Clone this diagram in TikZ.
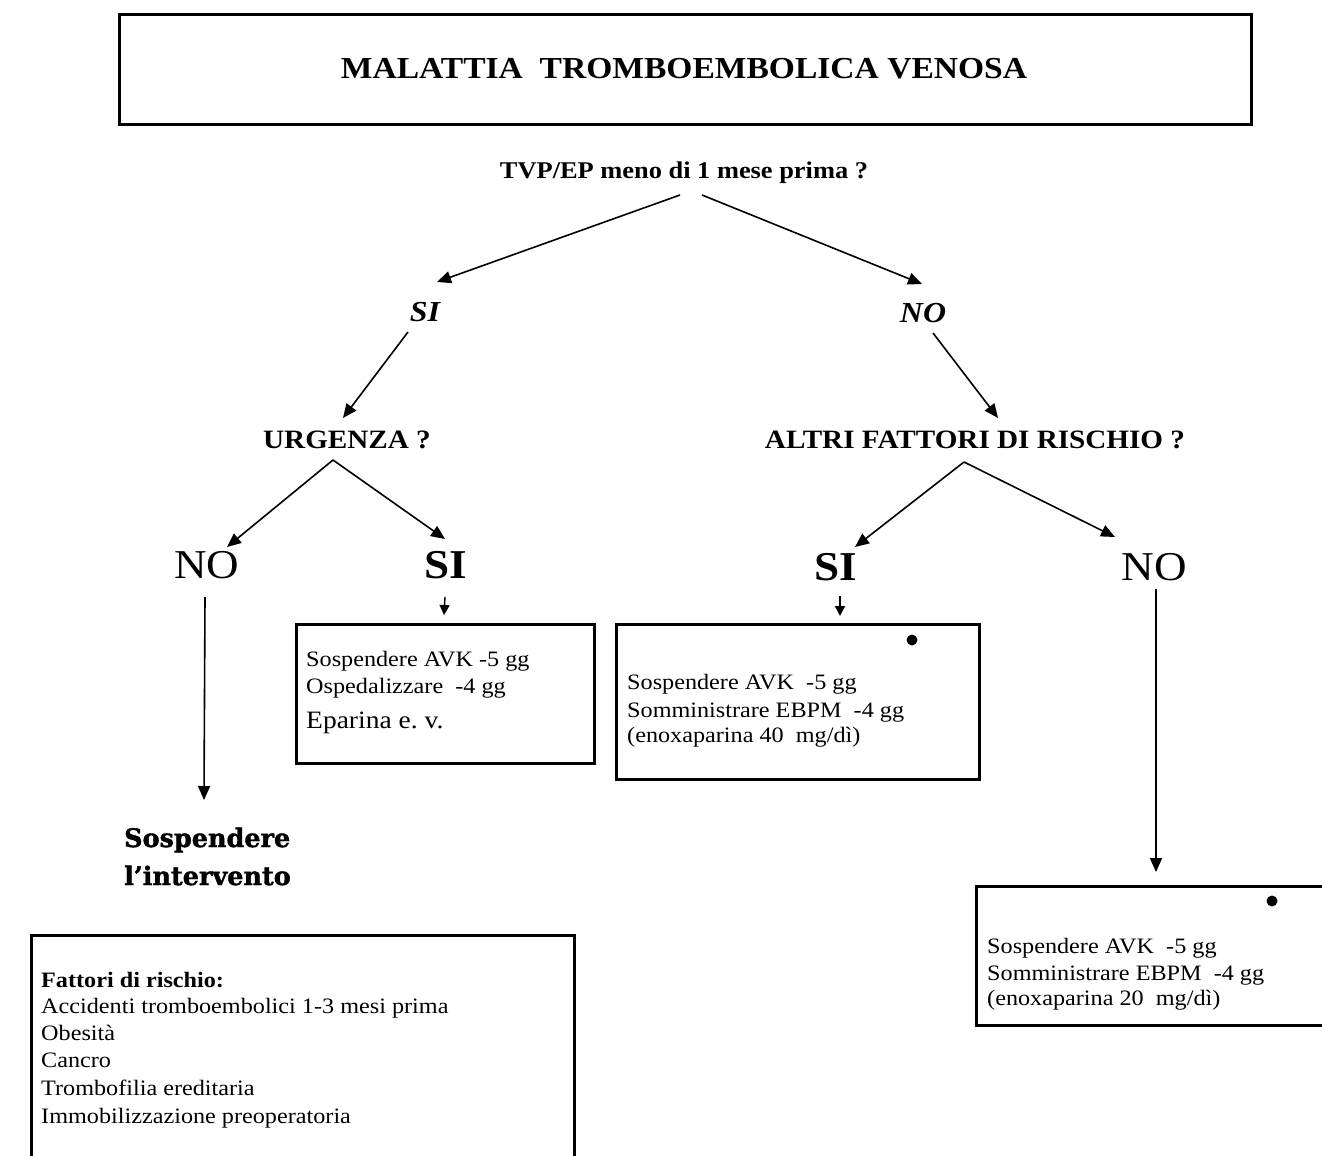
\documentclass[tikz,border=0pt]{standalone}
\usepackage{fontspec}
\setmainfont{Liberation Serif}[FakeStretch=1.1]
\newfontfamily\heavyfont{DejaVu Serif}[FakeBold=1.5]
\usetikzlibrary{arrows.meta,calc}
\begin{document}
\begin{tikzpicture}[x=1pt,y=-1pt,
  boxst/.style={draw, line width=2.6pt, inner sep=0pt, anchor=north west},
  arr/.style={line width=1.6pt, -{Triangle[length=14pt,width=12pt]}},
  sarr/.style={line width=1.4pt, -{Triangle[length=10pt,width=10pt]}},
  lbl/.style={inner sep=0pt, anchor=base},
  txt/.style={inner sep=0pt, anchor=base west, font=\fontsize{22}{26}\selectfont},
  bigreg/.style={lbl, font=\fontsize{41}{41}\selectfont},
  bigbold/.style={lbl, font=\bfseries\fontsize{41}{41}\selectfont},
  itl/.style={lbl, font=\bfseries\itshape\fontsize{29}{29}\selectfont},
  qst/.style={lbl, font=\bfseries\fontsize{26.5}{26.5}\selectfont},
  heavy/.style={inner sep=0pt, anchor=base west, font=\heavyfont\bfseries\fontsize{25.5}{25.5}\selectfont},
]
\useasboundingbox (0,0) rectangle (1322,1156);
\fill[white] (0,0) rectangle (1322,1156);
\clip (0,0) rectangle (1322,1156);

% title
\node[boxst, minimum width=1132pt, minimum height=110pt] (title) at (118,13) {};
\node[lbl, font=\bfseries\fontsize{30.5}{30.5}\selectfont] (titletxt) at (684,78) {MALATTIA\ \ TROMBOEMBOLICA VENOSA};

% questions and labels
\node[lbl, font=\bfseries\fontsize{24}{24}\selectfont] (q1) at (684,178) {TVP/EP meno di 1 mese prima ?};
\node[itl] (si1) at (425,321) {SI};
\node[itl] (no1) at (923,322) {NO};
\node[qst] (urg) at (347,448) {URGENZA ?};
\node[qst] (altri) at (975,448) {ALTRI FATTORI DI RISCHIO ?};
\node[bigreg] (noA) at (207,578) {NO};
\node[bigbold] (siA) at (446,578) {SI};
\node[bigbold] (siB) at (836,580) {SI};
\node[bigreg] (noB) at (1154,580) {NO};

% boxes
\node[boxst, minimum width=298pt, minimum height=139pt] (boxA) at (295,623) {};
\node[txt] (a1) at (306,666) {Sospendere AVK -5 gg};
\node[txt] (a2) at (306,693) {Ospedalizzare\ \ -4 gg};
\node[txt, font=\fontsize{25}{28}\selectfont] (a3) at (306,728) {Eparina e.\ v.};

\node[boxst, minimum width=363pt, minimum height=155pt] (boxB) at (615,623) {};
\fill (912,640) circle (5.5pt);
\node[txt] (b1) at (627,689) {Sospendere AVK\ \ -5 gg};
\node[txt] (b2) at (627,717) {Somministrare EBPM\ \ -4 gg};
\node[txt] (b3) at (627,742) {(enoxaparina 40\ \ mg/dì)};

\node[boxst, minimum width=400pt, minimum height=139pt] (boxC) at (975,885) {};
\fill (1272,901) circle (5.5pt);
\node[txt] (c1) at (987,953) {Sospendere AVK\ \ -5 gg};
\node[txt] (c2) at (987,980) {Somministrare EBPM\ \ -4 gg};
\node[txt] (c3) at (987,1005) {(enoxaparina 20\ \ mg/dì)};

\node[heavy] (s1) at (124,847) {Sospendere};
\node[heavy] (s2) at (124,885) {l’intervento};

\node[boxst, minimum width=543pt, minimum height=260pt] (risk) at (30,934) {};
\node[txt, font=\bfseries\fontsize{22}{26}\selectfont] (r0) at (41,987) {Fattori di rischio:};
\node[txt] (r1) at (41,1013) {Accidenti tromboembolici 1-3 mesi prima};
\node[txt] (r2) at (41,1040) {Obesità};
\node[txt] (r3) at (41,1067) {Cancro};
\node[txt] (r4) at (41,1095) {Trombofilia ereditaria};
\node[txt] (r5) at (41,1123) {Immobilizzazione preoperatoria};

% connectors
\draw[arr] ($(q1.base)+(-4,17)$) -- ($(si1.base)+(12,-39)$);
\draw[arr] ($(q1.base)+(18,17)$) -- ($(no1.base)+(-1,-38)$);
\draw[arr] ($(si1.base)+(-17,11)$) -- ($(urg.base)+(-4,-30)$);
\draw[arr] ($(no1.base)+(10,11)$) -- ($(altri.base)+(23,-30)$);
\draw[arr] ($(urg.base)+(-14,12)$) -- ($(noA.base)+(20,-31)$);
\draw[arr] ($(urg.base)+(-14,12)$) -- ($(siA.base)+(-1,-39)$);
\draw[arr] ($(altri.base)+(-11,14)$) -- ($(siB.base)+(19,-33)$);
\draw[arr] ($(altri.base)+(-11,14)$) -- ($(noB.base)+(-39,-43)$);
\draw[sarr] ($(siA.base)+(-1,19)$) -- ($(boxA.north west)+(149,-8)$);
\draw[sarr] ($(siB.base)+(4,16)$) -- ($(boxB.north west)+(225,-7)$);
\draw[arr] ($(noA.base)+(-2,19)$) -- ($(s1.base west)+(80,-47)$);
\draw[arr] ($(noB.base)+(2,9)$) -- ($(boxC.north west)+(181,-13)$);
\end{tikzpicture}
\end{document}
